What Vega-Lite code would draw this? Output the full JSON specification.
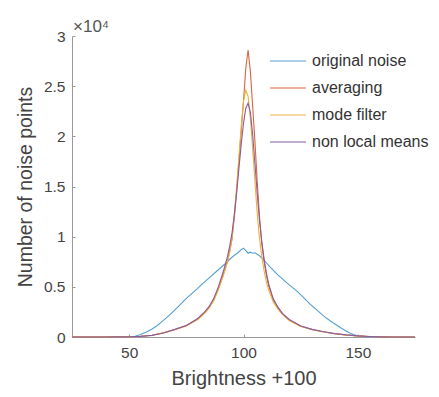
{
"$schema": "https://vega.github.io/schema/vega-lite/v6.json",
"autosize": "none",
"width": 343,
"height": 301,
"padding": {"left": 72, "top": 36, "right": 24, "bottom": 60},
"background": "white",
"config": {"view": {"stroke": null}, "font": "Liberation Sans"},
"title": {"text": "×10⁴", "anchor": "start", "frame": "group", "fontSize": 17, "fontWeight": "normal", "color": "#555", "offset": -7, "dx": 1},
"datasets": {
"noise": [
{"x":25,"y":0},{"x":30,"y":0},{"x":35,"y":0},{"x":40,"y":0},{"x":45,"y":0},{"x":50,"y":0},{"x":52,"y":30},{"x":55,"y":250},{"x":58,"y":550},{"x":60,"y":800},{"x":62,"y":1100},{"x":65,"y":1650},{"x":68,"y":2250},{"x":70,"y":2700},{"x":72,"y":3150},{"x":75,"y":3850},{"x":78,"y":4450},{"x":80,"y":4850},{"x":82,"y":5300},{"x":85,"y":5900},{"x":88,"y":6500},{"x":90,"y":6900},{"x":92,"y":7300},{"x":94,"y":7750},{"x":96,"y":8150},{"x":97,"y":8300},{"x":98,"y":8500},{"x":99,"y":8700},{"x":100,"y":8850},{"x":101,"y":8600},{"x":102,"y":8350},{"x":103,"y":8450},{"x":104,"y":8350},{"x":105,"y":8400},{"x":106,"y":8250},{"x":107,"y":8100},{"x":108,"y":7900},{"x":110,"y":7400},{"x":112,"y":6900},{"x":115,"y":6200},{"x":118,"y":5600},{"x":120,"y":5200},{"x":123,"y":4650},{"x":126,"y":4000},{"x":129,"y":3300},{"x":132,"y":2700},{"x":135,"y":2100},{"x":138,"y":1600},{"x":140,"y":1300},{"x":143,"y":850},{"x":146,"y":450},{"x":148,"y":250},{"x":150,"y":120},{"x":153,"y":40},{"x":156,"y":0},{"x":160,"y":0},{"x":165,"y":0},{"x":170,"y":0},{"x":175,"y":0}
],
"avg": [
{"x":25,"y":0},{"x":30,"y":0},{"x":35,"y":0},{"x":38,"y":5},{"x":40,"y":10},{"x":45,"y":20},{"x":50,"y":35},{"x":55,"y":70},{"x":60,"y":180},{"x":65,"y":420},{"x":70,"y":750},{"x":75,"y":1150},{"x":80,"y":1800},{"x":83,"y":2400},{"x":85,"y":2950},{"x":87,"y":3700},{"x":89,"y":4800},{"x":91,"y":6100},{"x":93,"y":7600},{"x":94,"y":8600},{"x":95,"y":9800},{"x":96,"y":12000},{"x":97,"y":14500},{"x":98,"y":17500},{"x":99,"y":20500},{"x":100,"y":23500},{"x":101,"y":26800},{"x":102,"y":28600},{"x":103,"y":26500},{"x":104,"y":23000},{"x":105,"y":19500},{"x":106,"y":15500},{"x":107,"y":12000},{"x":108,"y":9300},{"x":109,"y":7500},{"x":110,"y":6200},{"x":111,"y":5100},{"x":113,"y":3700},{"x":115,"y":2900},{"x":117,"y":2300},{"x":120,"y":1700},{"x":125,"y":1100},{"x":130,"y":750},{"x":135,"y":520},{"x":140,"y":330},{"x":145,"y":200},{"x":150,"y":110},{"x":155,"y":55},{"x":160,"y":20},{"x":165,"y":5},{"x":170,"y":0},{"x":175,"y":0}
],
"mode": [
{"x":25,"y":0},{"x":30,"y":0},{"x":35,"y":0},{"x":40,"y":5},{"x":45,"y":15},{"x":50,"y":30},{"x":55,"y":65},{"x":60,"y":170},{"x":65,"y":400},{"x":70,"y":720},{"x":75,"y":1100},{"x":80,"y":1750},{"x":83,"y":2350},{"x":85,"y":2900},{"x":87,"y":3650},{"x":89,"y":4700},{"x":91,"y":6000},{"x":93,"y":7500},{"x":94,"y":8500},{"x":95,"y":9800},{"x":96,"y":12300},{"x":97,"y":15000},{"x":98,"y":18000},{"x":99,"y":21000},{"x":100,"y":23500},{"x":101,"y":24600},{"x":102,"y":24000},{"x":103,"y":21800},{"x":104,"y":18800},{"x":105,"y":15500},{"x":106,"y":12300},{"x":107,"y":9800},{"x":108,"y":8000},{"x":109,"y":6600},{"x":110,"y":5500},{"x":111,"y":4700},{"x":113,"y":3500},{"x":115,"y":2800},{"x":117,"y":2250},{"x":120,"y":1650},{"x":125,"y":1050},{"x":130,"y":720},{"x":135,"y":500},{"x":140,"y":320},{"x":145,"y":190},{"x":150,"y":100},{"x":155,"y":50},{"x":160,"y":15},{"x":165,"y":0},{"x":170,"y":0},{"x":175,"y":0}
],
"nlm": [
{"x":25,"y":0},{"x":30,"y":0},{"x":35,"y":0},{"x":40,"y":0},{"x":45,"y":10},{"x":50,"y":25},{"x":55,"y":60},{"x":60,"y":160},{"x":65,"y":400},{"x":70,"y":760},{"x":75,"y":1150},{"x":80,"y":1850},{"x":83,"y":2500},{"x":85,"y":3050},{"x":87,"y":3850},{"x":89,"y":5000},{"x":91,"y":6400},{"x":93,"y":8000},{"x":94,"y":9100},{"x":95,"y":10400},{"x":96,"y":12200},{"x":97,"y":14400},{"x":98,"y":16800},{"x":99,"y":19200},{"x":100,"y":21300},{"x":101,"y":22800},{"x":102,"y":23300},{"x":103,"y":22400},{"x":104,"y":20200},{"x":105,"y":17300},{"x":106,"y":14300},{"x":107,"y":11600},{"x":108,"y":9500},{"x":109,"y":7800},{"x":110,"y":6400},{"x":111,"y":5300},{"x":113,"y":3800},{"x":115,"y":3000},{"x":117,"y":2350},{"x":120,"y":1750},{"x":125,"y":1100},{"x":130,"y":760},{"x":135,"y":530},{"x":140,"y":340},{"x":145,"y":210},{"x":150,"y":110},{"x":155,"y":50},{"x":160,"y":15},{"x":165,"y":0},{"x":170,"y":0},{"x":175,"y":0}
]
},
"encoding": {
"x": {"field": "x", "type": "quantitative", "scale": {"domain": [25, 175], "nice": false, "zero": false},
  "axis": {"title": "Brightness +100", "values": [50, 100, 150], "grid": false, "domainColor": "#999", "tickColor": "#999", "tickSize": -3, "labelFontSize": 15.5, "labelColor": "#444", "labelPadding": 11, "titleFontSize": 20, "titleFontWeight": "normal", "titleColor": "#444", "titlePadding": 8}},
"y": {"field": "y", "type": "quantitative", "scale": {"domain": [0, 30000], "nice": false},
  "axis": {"title": "Number of noise points", "values": [0, 5000, 10000, 15000, 20000, 25000, 30000], "labelExpr": "datum.value / 10000", "grid": false, "domainColor": "#999", "tickColor": "#999", "tickSize": -3, "labelFontSize": 15.5, "labelColor": "#444", "labelPadding": 10, "titleFontSize": 19.5, "titleFontWeight": "normal", "titleColor": "#444", "titlePadding": 8}}
},
"layer": [
{"data": {"name": "noise"}, "mark": {"type": "line", "strokeWidth": 1.1}, "encoding": {"color": {"datum": "original noise", "type": "nominal", "scale": {"domain": ["original noise", "averaging", "mode filter", "non local means"], "range": ["#569FD3", "#D9663E", "#EDB43A", "#8C5AA0"]}, "legend": {"title": null, "orient": "none", "legendX": 197, "legendY": 6, "symbolType": "stroke", "symbolSize": 1300, "symbolStrokeWidth": 1.2, "labelFontSize": 16, "labelColor": "#333", "labelOffset": 5, "rowPadding": -16}}}},
{"data": {"name": "avg"}, "mark": {"type": "line", "strokeWidth": 1.1}, "encoding": {"color": {"datum": "averaging", "type": "nominal"}}},
{"data": {"name": "mode"}, "mark": {"type": "line", "strokeWidth": 1.1}, "encoding": {"color": {"datum": "mode filter", "type": "nominal"}}},
{"data": {"name": "nlm"}, "mark": {"type": "line", "strokeWidth": 1.1}, "encoding": {"color": {"datum": "non local means", "type": "nominal"}}}
]
}
